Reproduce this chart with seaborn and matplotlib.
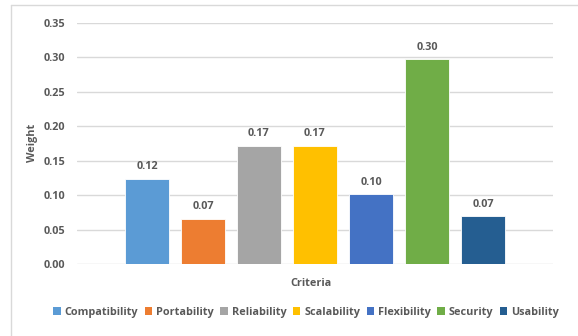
import matplotlib
matplotlib.use("Agg")
import matplotlib.pyplot as plt
from matplotlib.patches import Patch
from matplotlib.lines import Line2D
import seaborn as sns
import pandas as pd

criteria = ["Compatibility", "Portability", "Reliability", "Scalability",
            "Flexibility", "Security", "Usability"]
weights = [0.124, 0.066, 0.171, 0.171, 0.101, 0.297, 0.069]
colors = ["#5B9BD5", "#ED7D31", "#A5A5A5", "#FFC000",
          "#4472C4", "#70AD47", "#255E91"]
y_ticks = [0.00, 0.05, 0.10, 0.15, 0.20, 0.25, 0.30, 0.35]

sns.set_theme(style="white")
plt.rcParams["font.family"] = ["Open Sans", "DejaVu Sans"]
text_color = "#595959"
grid_color = "#d9d9d9"
fs = 7.8

df = pd.DataFrame({"Criteria": criteria, "Weight": weights})

W, H = 578, 336
fig = plt.figure(figsize=(W / 100, H / 100), dpi=100)
ax = fig.add_axes([77 / W, 1 - 264 / H, (553 - 77) / W, (264 - 23) / H])

sns.barplot(data=df, x="Criteria", y="Weight", hue="Criteria",
            palette=colors, saturation=1, width=0.786, dodge=False,
            legend=False, edgecolor="white", linewidth=0.6, ax=ax)

ax.set_xlim(-1.25, len(criteria) - 1 + 1.25)
ax.set_ylim(0, 0.35)
ax.set_yticks(y_ticks)
ax.set_yticklabels([f"{t:.2f}" for t in y_ticks])
ax.set_xticks([])
ax.yaxis.grid(True, color=grid_color, linewidth=1.0)
ax.set_axisbelow(True)
for s in ["top", "right", "left", "bottom"]:
    ax.spines[s].set_visible(False)
ax.tick_params(axis="y", length=0, pad=8.5, labelsize=fs,
               labelcolor=text_color)
for lbl in ax.get_yticklabels():
    lbl.set_fontweight("bold")

# value labels above each bar
for i, v in enumerate(weights):
    ax.annotate(f"{v:.2f}", (i, v), xytext=(0, 5), textcoords="offset points",
                ha="center", va="bottom", fontsize=fs, fontweight="bold",
                color=text_color)

ax.set_xlabel("")
ax.set_ylabel("")
fig.text(311 / W, 1 - 283 / H, "Criteria", ha="center", va="center",
         fontsize=fs, fontweight="bold", color=text_color)
fig.text(32 / W, 1 - 143 / H, "Weight", ha="center", va="center",
         rotation=90, fontsize=fs, fontweight="bold", color=text_color)

handles = [Patch(facecolor=c, edgecolor="none") for c in colors]
leg = fig.legend(handles, criteria, loc="center", ncol=len(criteria),
                 bbox_to_anchor=(306 / W, 1 - 312 / H), frameon=False,
                 handlelength=0.7, handleheight=0.7, handletextpad=0.35,
                 columnspacing=0.6, prop={"size": fs, "weight": "bold"})
for t in leg.get_texts():
    t.set_color(text_color)

# chart area border
fig.add_artist(Line2D([11 / W, 11 / W], [0, 1 - 5 / H], transform=fig.transFigure,
                      color=grid_color, linewidth=1.0))
fig.add_artist(Line2D([11 / W, 1], [1 - 5 / H, 1 - 5 / H], transform=fig.transFigure,
                      color=grid_color, linewidth=1.0))

fig.savefig("out.png", dpi=100, facecolor="white")
